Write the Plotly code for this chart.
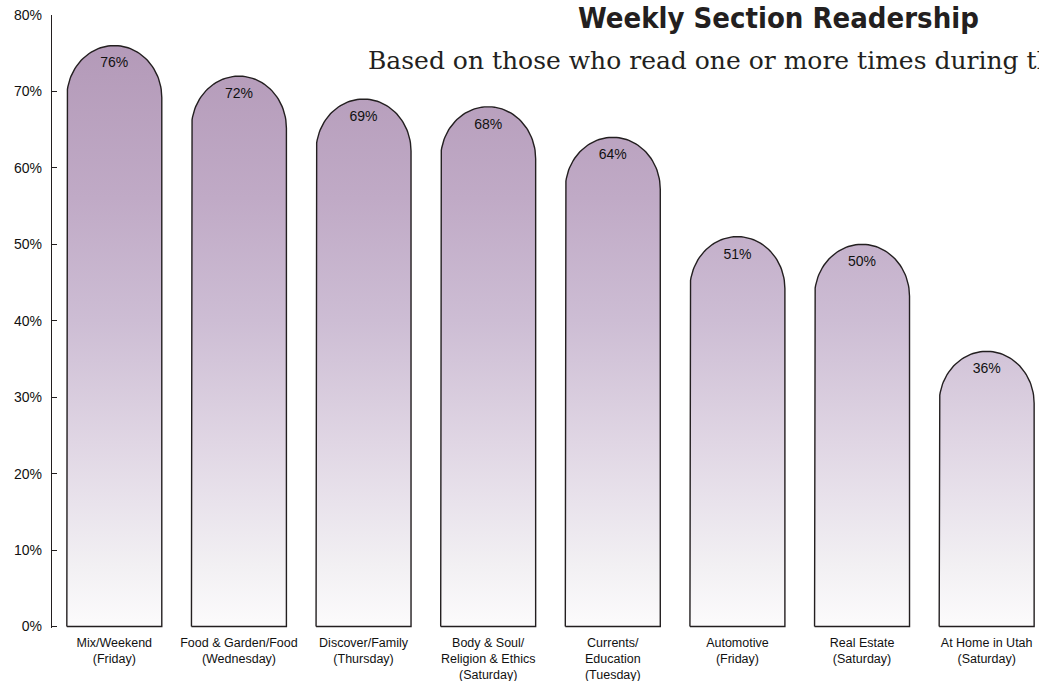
import numpy as np
import plotly.graph_objects as go

# ---- data ----
categories = [
    "Mix/Weekend<br>(Friday)",
    "Food & Garden/Food<br>(Wednesday)",
    "Discover/Family<br>(Thursday)",
    "Body & Soul/<br>Religion & Ethics<br>(Saturday)",
    "Currents/<br>Education<br>(Tuesday)",
    "Automotive<br>(Friday)",
    "Real Estate<br>(Saturday)",
    "At Home in Utah<br>(Saturday)",
]
values = [76, 72, 69, 68, 64, 51, 50, 36]
y_ticks = [0, 10, 20, 30, 40, 50, 60, 70, 80]
y_tick_labels = [f"{t}%" for t in y_ticks]
title_text = "Weekly Section Readership"
subtitle_text = "Based on those who read one or more times during the week"

# ---- style ----
BAR_W = 0.762
CAP_H = 6.8
OUTLINE = "#231f20"
gradient = [
    [0.00, "#fcfbfc"],
    [0.10, "#f2f0f3"],
    [0.20, "#e9e3ec"],
    [0.30, "#e0d6e4"],
    [0.50, "#cdbdd4"],
    [0.70, "#c0aac6"],
    [0.90, "#b69dbb"],
    [1.00, "#b196b6"],
]

fig = go.Figure()

theta = np.linspace(np.pi, 0, 60)
for i, v in enumerate(values):
    x0, x1 = i - BAR_W / 2, i + BAR_W / 2
    base = v - CAP_H
    xs = [x0, x0] + list(i + (BAR_W / 2) * np.cos(theta)) + [x1, x1, x0]
    ys = [0, base] + list(base + CAP_H * np.sin(theta)) + [base, 0, 0]
    fig.add_trace(go.Scatter(
        x=xs, y=ys, mode="lines", fill="toself",
        fillgradient=dict(type="vertical", colorscale=gradient, start=0, stop=80),
        line=dict(color=OUTLINE, width=1.4),
        hoverinfo="skip", showlegend=False,
    ))

fig.add_trace(go.Scatter(
    x=list(range(len(values))), y=[v - 2.4 for v in values],
    mode="text", text=[f"{v}%" for v in values],
    textfont=dict(family="Liberation Sans, Arial, sans-serif", size=14, color="#111111"),
    hoverinfo="skip", showlegend=False,
))

fig.add_annotation(
    text=f"<b>{title_text}</b>", xref="paper", yref="paper",
    x=(778 - 52) / 987, y=1 + (15 - 18) / 613, xanchor="center", yanchor="middle",
    showarrow=False,
    font=dict(family="Liberation Sans Narrow, DejaVu Sans Condensed, Arial Narrow, sans-serif",
              size=29, color="#231f20"),
)
fig.add_annotation(
    text=subtitle_text, xref="paper", yref="paper",
    x=(366 - 52) / 987, y=1 - (60 - 15) / 613, xanchor="left", yanchor="middle",
    showarrow=False,
    font=dict(family="DejaVu Serif, serif", size=25, color="#231f20"),
)

fig.update_layout(
    width=1039, height=681,
    margin=dict(l=52, r=0, t=15, b=53),
    paper_bgcolor="white", plot_bgcolor="white",
    xaxis=dict(
        range=[-0.5, 7.42], tickvals=list(range(len(categories))), ticktext=categories,
        showline=False, showgrid=False, zeroline=False, ticks="",
        tickfont=dict(family="Liberation Sans, Arial, sans-serif", size=12.5, color="#111111"),
        ticklabelstandoff=5,
        fixedrange=True,
    ),
    yaxis=dict(
        range=[-0.2, 80], tickvals=y_ticks, ticktext=y_tick_labels,
        showline=True, linecolor=OUTLINE, linewidth=1.3,
        ticks="inside", ticklen=5, tickcolor=OUTLINE, tickwidth=1.2,
        showgrid=False, zeroline=False,
        tickfont=dict(family="Liberation Sans, Arial, sans-serif", size=14, color="#111111"),
        ticklabelstandoff=6,
        fixedrange=True,
    ),
)

fig.write_html("out.html", config={"displayModeBar": False},
               post_script="document.body.style.margin='0px';")
